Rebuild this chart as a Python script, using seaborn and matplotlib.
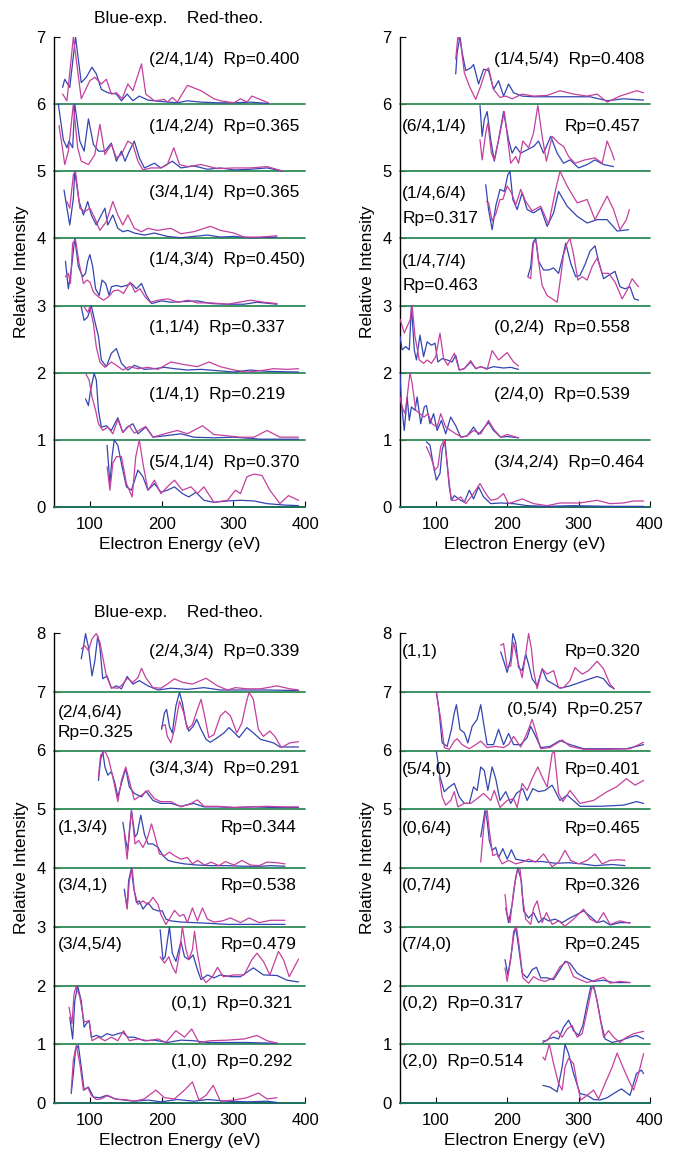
import matplotlib
matplotlib.use("Agg")
import matplotlib.pyplot as plt
import seaborn as sns
import pandas as pd

# ---------------- DATA (energy in eV, intensity relative to band baseline) ----------------
# Top-left panel
TL1_E_EXP = [62,65,72,80,88,95,103,109,116,125,137,144,152,160,169,181,199,222,236,255,278,301,324,349]
TL1_EXP = [.25,.37,.25,1.0,.32,.40,.55,.45,.22,.17,.15,.05,.15,.05,.12,.06,.04,.02,.05,.03,.02,.02,.03,.01]
TL1_E_TH = [62,68,77,88,100,107,116,123,130,137,145,153,160,172,178,190,204,208,215,222,236,255,273,282,301,310,319,326,342,349]
TL1_TH = [.15,.05,1.0,.08,.35,.40,.30,.37,.15,.17,.08,.30,.20,.60,.15,.05,.07,.03,.10,.03,.28,.20,.08,.05,.02,.08,.03,.12,.05,.02]

TL2_E_EXP = [56,63,68,71,76,79,86,92,98,105,112,121,130,137,144,149,155,162,169,176,190,199,215,227,245,264,282,301,324,347,370]
TL2_EXP = [1.0,.47,.35,.45,.35,1.0,.45,.30,.78,.40,.30,.30,.42,.15,.30,.15,.30,.45,.20,.05,.12,.05,.15,.05,.08,.03,.05,.02,.03,.05,.0]
TL2_E_TH = [57,61,65,70,77,83,88,98,107,114,121,130,137,144,153,160,167,174,185,199,208,217,225,236,255,278,301,324,347,370]
TL2_TH = [.68,.40,.10,.30,1.0,.35,.15,.10,.25,.70,.25,.40,.20,.25,.45,.40,.15,.02,.05,.05,.10,.35,.10,.07,.10,.04,.05,.05,.07,.0]

TL3_E_EXP = [64,68,72,77,79,85,91,97,102,109,116,121,125,132,139,146,153,162,176,190,208,227,245,264,282,301,324,361]
TL3_EXP = [.72,.45,.20,.60,1.0,.55,.35,.55,.35,.20,.35,.45,.20,.35,.15,.10,.12,.08,.05,.08,.03,.01,.03,.05,.02,.03,.01,.02]
TL3_E_TH = [68,72,77,80,86,93,100,107,114,123,132,139,146,153,162,172,181,194,213,227,245,268,282,301,315,338,361]
TL3_TH = [.55,.45,.95,1.0,.45,.40,.45,.30,.12,.25,.55,.35,.20,.35,.15,.10,.15,.12,.15,.07,.10,.18,.12,.08,.02,.02,.04]

TL4_E_EXP = [66,70,74,79,84,90,94,97,100,104,108,113,117,122,127,130,137,144,151,158,165,172,179,186,200,213,232,250,269,292,315,333,361]
TL4_EXP = [.66,.25,.53,1.0,.58,.43,.48,.66,.76,.58,.25,.15,.38,.33,.15,.28,.30,.28,.30,.33,.25,.33,.15,.03,.07,.05,.06,.07,.03,.02,.02,.05,.02]
TL4_E_TH = [66,70,73,76,80,85,91,96,100,105,112,119,126,133,140,147,156,163,170,177,184,195,209,223,237,250,269,292,324,343,361]
TL4_TH = [.43,.48,.33,.93,.98,.63,.33,.38,.35,.20,.13,.08,.13,.22,.23,.18,.35,.20,.25,.13,.05,.08,.10,.05,.08,.04,.04,.02,.08,.05,.03]

TL5_E_EXP = [88,92,97,102,107,112,116,123,130,137,144,153,162,176,190,204,218,236,255,278,301,324,347,391]
TL5_EXP = [.98,.78,.83,1.0,.76,.54,.19,.09,.29,.36,.14,.04,.11,.05,.06,.08,.06,.04,.05,.03,.01,.04,.02,.01]
TL5_E_TH = [92,97,100,105,109,114,121,130,137,146,155,167,181,195,213,232,250,266,282,301,319,338,356,375,391]
TL5_TH = [.98,.90,.98,.73,.38,.16,.08,.16,.11,.04,.09,.06,.08,.05,.16,.12,.09,.16,.09,.04,.01,.03,.06,.05,.06]

TL6_E_EXP = [94,98,101,106,109,112,116,123,130,139,146,152,160,167,178,188,204,227,245,273,301,338,391]
TL6_EXP = [.61,.51,.74,.99,.89,.44,.19,.21,.14,.33,.11,.19,.24,.09,.19,.04,.06,.09,.04,.03,.04,.01,.01]
TL6_E_TH = [94,99,103,108,112,118,125,132,139,146,155,162,178,188,204,222,236,257,273,292,310,329,347,365,391]
TL6_TH = [.99,.89,.64,.44,.24,.14,.19,.09,.30,.11,.21,.10,.20,.04,.09,.14,.09,.21,.08,.06,.04,.04,.14,.04,.04]

TL7_E_EXP = [124,128,131,134,139,144,151,158,167,174,181,190,199,208,218,229,238,248,259,273,292,310,329,347,370,391]
TL7_EXP = [.92,.35,.75,1.0,.92,.65,.30,.25,.55,.45,.25,.35,.22,.25,.30,.20,.15,.22,.10,.07,.09,.10,.09,.05,.03,.02]
TL7_E_TH = [124,128,132,137,144,151,159,164,169,174,181,190,199,208,218,229,241,250,259,273,292,303,310,319,329,340,351,365,377,391]
TL7_TH = [.60,.25,.65,.75,.75,.35,.15,.75,1.0,.65,.25,.40,.20,.30,.40,.25,.30,.20,.30,.07,.10,.25,.20,.45,.49,.47,.25,.05,.17,.10]

# Top-right panel
TR1_E_EXP = [128,130,134,137,142,149,153,160,167,174,181,188,195,202,209,221,237,256,274,293,316,340,363,391]
TR1_EXP = [.45,.77,1.0,.77,.50,.54,.59,.30,.52,.50,.22,.35,.12,.30,.17,.12,.11,.11,.11,.11,.11,.05,.08,.06]
TR1_E_TH = [128,131,135,140,147,156,163,170,174,181,190,198,207,221,237,256,274,293,312,326,340,358,381,391]
TR1_TH = [.67,1.0,.91,.47,.27,.07,.27,.50,.54,.22,.10,.12,.08,.15,.12,.13,.20,.15,.12,.15,.03,.12,.20,.17]

TR2_E_EXP = [162,165,168,172,177,182,188,195,202,207,212,219,228,237,244,251,261,270,279,288,300,312,323,335,349]
TR2_EXP = [.98,.52,.77,.89,.47,.15,.47,.89,.47,.27,.37,.27,.32,.37,.45,.27,.52,.27,.12,.17,.05,.10,.17,.10,.07]
TR2_E_TH = [162,165,170,173,178,182,190,196,202,205,212,216,222,230,237,243,249,255,263,272,279,286,295,309,323,333,340,347,350]
TR2_TH = [.47,.17,.57,.72,.27,.17,.57,.89,.37,.12,.22,.12,.45,.35,.57,.98,.52,.15,.52,.42,.37,.22,.12,.17,.20,.12,.45,.27,.17]

TR3_E_EXP = [170,174,179,184,190,196,201,204,208,214,221,228,237,247,256,265,272,284,298,312,326,340,354,370]
TR3_EXP = [.80,.43,.13,.48,.73,.70,.95,1.0,.58,.43,.68,.43,.38,.45,.18,.38,.70,.48,.33,.23,.28,.28,.11,.13]
TR3_E_TH = [171,174,179,184,190,194,200,206,212,219,226,235,247,258,268,274,284,298,312,323,340,349,358,367,371]
TR3_TH = [.55,.53,.26,.36,.58,.58,.78,.68,.50,.73,.55,.41,.48,.21,.73,1.0,.78,.53,.58,.28,.63,.43,.13,.28,.43]

TR4_E_EXP = [229,233,236,240,244,251,258,265,272,278,282,289,296,302,309,316,323,328,335,342,351,358,365,372,378,384]
TR4_EXP = [.43,.58,.93,1.0,.66,.53,.53,.56,.48,.73,.93,.63,.43,.45,.61,.81,.89,.66,.40,.45,.51,.28,.25,.28,.10,.08]
TR4_E_TH = [229,233,237,241,245,249,256,263,270,275,279,284,288,293,299,305,312,319,326,333,342,351,361,368,375,380,384]
TR4_TH = [.43,.40,.96,.93,.58,.30,.15,.10,.05,.43,.76,.93,1.0,.76,.38,.43,.38,.58,.71,.48,.48,.35,.10,.23,.40,.33,.28]

TR5_E_EXP = [50,53,58,63,66,70,73,78,83,88,94,99,103,109,116,123,128,133,140,149,156,163,172,181,195,205,216]
TR5_EXP = [.54,.34,.39,.34,1.0,.34,.19,.56,.24,.46,.41,.44,.16,.21,.19,.16,.26,.04,.06,.16,.06,.09,.06,.09,.07,.08,.05]
TR5_E_TH = [50,56,60,64,67,71,77,83,88,94,100,106,111,117,126,133,140,149,156,163,172,179,188,200,209,216]
TR5_TH = [.80,.59,.69,.78,1.0,.54,.19,.14,.19,.14,.24,.59,.21,.11,.29,.04,.06,.18,.06,.09,.05,.33,.19,.30,.16,.10]

TR6_E_EXP = [50,52,56,60,63,66,71,74,79,84,87,92,97,102,108,114,121,128,135,144,153,160,174,181,191,200,216]
TR6_EXP = [.99,.54,.14,.64,.29,.49,.44,.64,.24,.49,.51,.24,.39,.14,.29,.09,.34,.21,.04,.06,.19,.08,.26,.14,.04,.05,.03]
TR6_E_TH = [50,53,57,60,64,67,72,78,84,89,95,102,107,114,121,128,137,144,153,163,174,181,191,200,216]
TR6_TH = [.64,.49,.39,.64,1.0,.84,.44,.39,.34,.39,.24,.19,.39,.19,.14,.09,.04,.06,.14,.09,.29,.16,.04,.08,.03]

TR7_E_EXP = [87,92,97,101,106,109,113,115,119,122,126,135,140,147,153,160,167,177,191,209,228,256,293,340,391]
TR7_EXP = [.97,.92,.60,.40,.50,.85,1.0,.75,.30,.10,.17,.10,.07,.25,.12,.30,.15,.05,.06,.05,.02,.01,.02,.01,.01]
TR7_E_TH = [87,93,99,103,107,112,115,119,122,128,135,142,151,162,170,177,186,195,202,221,237,256,274,302,326,344,363,377,391]
TR7_TH = [.90,.75,.55,.60,.90,1.0,.75,.35,.10,.10,.15,.05,.17,.35,.20,.10,.12,.20,.05,.12,.05,.02,.06,.06,.10,.05,.06,.09,.09]

# Bottom-left panel
BL1_E_EXP = [88,91,94,98,103,107,111,114,118,124,130,137,144,152,160,169,181,195,213,236,259,282,310,347,391]
BL1_EXP = [.56,.76,.99,.76,.27,.53,.95,.76,.22,.27,.06,.10,.05,.26,.13,.19,.10,.03,.06,.04,.07,.03,.03,.03,.02]
BL1_E_TH = [88,93,98,103,109,114,118,123,130,139,146,152,160,167,172,178,188,199,208,218,229,243,262,278,292,303,319,338,361,379,391]
BL1_TH = [.73,.78,.70,.90,.99,.84,.59,.27,.07,.06,.13,.23,.16,.24,.40,.24,.07,.06,.13,.22,.16,.13,.23,.10,.03,.07,.05,.05,.10,.05,.03]

BL2_E_EXP = [200,204,207,211,215,220,225,229,234,238,244,249,255,262,268,278,287,294,301,308,319,328,338,347,356,365,379,391]
BL2_EXP = [.36,.64,.70,.41,.30,.76,.99,.81,.47,.33,.41,.53,.36,.19,.14,.22,.30,.39,.31,.22,.39,.30,.19,.16,.13,.06,.06,.06]
BL2_E_TH = [200,205,208,213,218,225,231,236,243,250,255,260,266,273,282,289,296,305,312,318,322,328,335,342,351,358,367,379,391]
BL2_TH = [.41,.44,.24,.13,.36,.84,.64,.36,.44,.70,.87,.59,.22,.27,.59,.67,.59,.30,.47,.81,.99,.87,.36,.24,.33,.24,.05,.13,.15]

BL3_E_EXP = [112,115,118,121,125,130,135,139,144,150,155,162,172,178,188,199,213,227,245,259,278,301,328,356,391]
BL3_EXP = [.49,.84,.98,.72,.58,.64,.44,.21,.44,.69,.38,.27,.21,.31,.15,.10,.10,.05,.10,.04,.04,.03,.04,.03,.03]
BL3_E_TH = [112,115,121,126,132,139,144,150,156,162,172,181,190,199,213,227,241,250,259,278,301,324,347,370,391]
BL3_TH = [.55,.92,.99,.86,.55,.13,.49,.72,.44,.16,.24,.32,.18,.13,.13,.04,.10,.16,.05,.05,.03,.04,.05,.04,.04]

BL4_E_EXP = [146,150,153,158,163,166,171,176,181,188,195,202,209,218,232,250,269,292,315,338,352,372]
BL4_EXP = [.78,.47,.30,.98,.53,.58,.90,.58,.41,.41,.35,.21,.13,.10,.07,.05,.04,.04,.03,.03,.04,.03]
BL4_E_TH = [148,152,155,158,163,168,174,180,186,191,197,204,211,218,227,236,243,250,260,269,280,289,301,312,324,336,347,361,372]
BL4_TH = [.58,.15,.64,.98,.41,.47,.35,.50,.75,.53,.24,.21,.27,.21,.15,.18,.07,.13,.05,.10,.04,.11,.05,.13,.05,.04,.10,.09,.07]

BL5_E_EXP = [148,152,154,158,161,165,169,174,181,188,195,201,206,213,227,245,264,292,319,347,372]
BL5_EXP = [.64,.32,.78,1.0,.67,.41,.44,.30,.41,.30,.27,.27,.13,.10,.08,.07,.06,.04,.04,.04,.04]
BL5_E_TH = [149,152,155,159,162,167,174,181,188,195,199,206,211,218,225,231,236,243,250,257,264,273,285,296,310,322,336,352,372]
BL5_TH = [.55,.30,.78,1.0,.61,.38,.44,.38,.50,.38,.21,.04,.13,.28,.18,.21,.07,.32,.10,.32,.13,.08,.10,.15,.07,.15,.07,.11,.11]

BL6_E_EXP = [198,202,205,208,211,215,220,227,232,238,244,250,255,264,273,282,296,310,328,342,361,375,391]
BL6_EXP = [.95,.44,.49,.75,1.0,.55,.41,.75,.49,.44,.52,.27,.10,.18,.13,.18,.15,.15,.30,.18,.17,.09,.06]
BL6_E_TH = [198,204,210,215,220,225,229,234,238,243,246,250,256,262,271,278,286,301,315,326,333,342,351,363,370,378,391]
BL6_TH = [.49,.38,.49,.32,.21,.55,1.0,.61,.44,.61,.92,.55,.15,.05,.15,.31,.15,.18,.18,.44,.55,.41,.18,.58,.44,.15,.45]

BL7_E_EXP = [72,76,79,83,88,92,95,99,102,109,116,124,132,139,146,153,162,176,190,208,227,245,264,292,319,347,361]
BL7_EXP = [.46,.09,.74,.99,.74,.29,.35,.40,.12,.15,.12,.18,.15,.18,.20,.12,.12,.06,.07,.03,.07,.06,.03,.03,.03,.02,.02]
BL7_E_TH = [71,75,78,81,86,92,99,103,112,121,130,139,147,155,167,181,195,206,220,232,242,252,268,292,315,333,347,361]
BL7_TH = [.63,.35,.86,.99,.80,.38,.40,.06,.12,.06,.12,.06,.23,.06,.09,.06,.09,.03,.23,.12,.26,.03,.06,.07,.09,.15,.06,.02]

BL8_E_EXP = [74,77,80,84,88,92,98,105,114,123,135,148,162,181,199,222,245,264,292,319,347,361]
BL8_EXP = [.16,.50,.90,.98,.61,.22,.27,.10,.09,.13,.07,.05,.03,.05,.02,.06,.03,.06,.03,.02,.03,.01]
BL8_E_TH = [74,77,81,86,91,97,102,109,116,125,137,148,162,176,192,204,218,232,243,252,262,272,282,301,319,335,347,361]
BL8_TH = [.22,.73,.98,.67,.22,.27,.13,.06,.07,.13,.06,.06,.03,.07,.22,.09,.07,.22,.36,.05,.13,.30,.03,.05,.09,.17,.07,.09]

# Bottom-right panel
BR1_E_EXP = [191,195,200,205,208,212,216,221,226,230,235,242,249,256,265,274,288,302,316,326,335,343,350]
BR1_EXP = [.68,.53,.33,.56,.99,.84,.41,.36,.64,.47,.22,.10,.39,.19,.13,.06,.10,.16,.22,.26,.22,.10,.05]
BR1_E_TH = [191,195,200,205,209,214,221,226,230,234,237,242,249,256,265,272,279,288,295,305,314,326,335,344,350]
BR1_TH = [.79,.82,.41,.44,.84,.56,.24,.64,.99,.73,.36,.05,.39,.30,.36,.07,.07,.19,.41,.30,.36,.52,.39,.13,.05]

BR2_E_EXP = [101,105,109,116,122,126,129,134,140,145,151,158,163,167,172,181,188,195,202,209,219,228,233,240,247,260,274,288,307,340,367,381,391]
BR2_EXP = [1.0,.64,.13,.07,.36,.64,.78,.36,.30,.13,.41,.53,.78,.47,.10,.10,.36,.10,.29,.10,.10,.22,.41,.24,.05,.07,.17,.10,.03,.03,.03,.07,.10]
BR2_E_TH = [101,107,112,119,126,130,137,147,156,163,172,184,195,202,209,219,228,235,242,247,260,277,288,307,340,372,391]
BR2_TH = [.98,.53,.05,.02,.16,.20,.10,.03,.10,.16,.05,.07,.05,.10,.24,.06,.30,.53,.24,.03,.05,.18,.07,.02,.02,.03,.14]

BR3_E_EXP = [101,106,112,119,126,133,140,147,153,158,163,168,173,179,184,190,198,205,213,222,228,236,244,253,263,274,284,302,330,363,381,391]
BR3_EXP = [.98,.55,.30,.38,.44,.21,.10,.10,.38,.32,.72,.66,.32,.72,.52,.15,.30,.10,.27,.35,.15,.35,.30,.32,.41,.15,.24,.05,.05,.07,.13,.10]
BR3_E_TH = [105,109,114,121,126,131,140,149,158,167,177,182,190,200,209,214,221,228,236,243,249,256,263,266,272,278,288,302,321,340,353,367,379,391]
BR3_TH = [.55,.21,.07,.15,.30,.04,.10,.10,.18,.27,.15,.32,.03,.15,.18,.03,.44,.32,.55,.72,.55,.38,.95,.98,.27,.13,.32,.10,.15,.30,.38,.52,.41,.49]

BR4_E_EXP = [163,166,169,172,175,179,184,188,194,200,206,212,221,230,249,268,286,305,323,347,365]
BR4_EXP = [.53,.75,.98,.81,.47,.30,.35,.18,.33,.15,.31,.15,.13,.11,.11,.08,.09,.07,.04,.06,.04]
BR4_E_TH = [163,166,169,172,175,180,186,193,202,212,221,230,240,251,263,272,281,289,300,312,323,333,344,356,365]
BR4_TH = [.10,.53,.90,.98,.64,.21,.24,.07,.13,.07,.10,.15,.10,.24,.02,.10,.30,.13,.07,.13,.24,.07,.13,.14,.13]

BR5_E_EXP = [198,202,207,212,215,220,223,230,237,244,251,258,267,277,288,298,307,316,326,335,344,358,372]
BR5_EXP = [.32,.07,.38,.84,1.0,.78,.27,.15,.24,.07,.15,.10,.13,.07,.15,.21,.27,.18,.07,.10,.03,.07,.07]
BR5_E_TH = [197,200,204,209,214,218,221,226,233,237,242,249,255,263,272,281,293,307,316,326,335,344,358,372]
BR5_TH = [.55,.21,.07,.61,.95,1.0,.55,.13,.04,.32,.44,.07,.24,.04,.10,.01,.13,.30,.13,.07,.24,.04,.10,.06]

BR6_E_EXP = [197,201,206,209,212,216,221,228,235,241,247,256,265,274,281,288,298,309,321,335,349,372]
BR6_EXP = [.44,.18,.55,.84,1.0,.66,.21,.13,.27,.31,.13,.13,.10,.27,.41,.38,.21,.13,.07,.09,.05,.05]
BR6_E_TH = [197,200,205,209,213,217,222,230,237,244,253,265,274,284,293,302,312,323,335,344,358,372]
BR6_TH = [.30,.07,.44,.92,1.0,.66,.13,.04,.15,.10,.07,.13,.32,.41,.15,.10,.05,.09,.14,.04,.07,.05]

BR7_E_EXP = [250,258,265,272,279,286,293,300,306,312,317,321,326,331,337,347,358,372,381,391]
BR7_EXP = [.03,.09,.12,.09,.29,.41,.23,.15,.32,.69,.97,.99,.74,.40,.09,.03,.06,.12,.15,.09]
BR7_E_TH = [250,256,263,270,277,284,291,298,305,312,319,323,329,335,342,349,358,367,377,391]
BR7_TH = [.06,.06,.18,.23,.12,.26,.32,.12,.18,.57,.99,.91,.52,.12,.23,.12,.03,.12,.18,.22]

BR8_E_EXP = [250,260,270,277,281,286,293,302,312,321,330,340,349,360,372,381,388,391]
BR8_EXP = [.30,.27,.19,.61,1.0,.84,.50,.16,.13,.06,.05,.09,.16,.24,.13,.50,.56,.50]
BR8_E_TH = [250,253,259,265,272,277,281,286,293,298,303,312,321,328,337,347,354,360,370,377,384,391]
BR8_TH = [.78,.73,1.0,.67,.33,.22,.61,.76,.67,.33,.05,.13,.22,.07,.33,.61,.85,.67,.39,.22,.50,.84]

# Band labels
TL_LABELS = ["(2/4,1/4)  Rp=0.400", "(1/4,2/4)  Rp=0.365", "(3/4,1/4)  Rp=0.365",
             "(1/4,3/4)  Rp=0.450)", "(1,1/4)  Rp=0.337", "(1/4,1)  Rp=0.219", "(5/4,1/4)  Rp=0.370"]
TR_LABELS = ["(1/4,5/4)  Rp=0.408", "(6/4,1/4)", "Rp=0.457", "(1/4,6/4)", "Rp=0.317",
             "(1/4,7/4)", "Rp=0.463", "(0,2/4)  Rp=0.558", "(2/4,0)  Rp=0.539", "(3/4,2/4)  Rp=0.464"]
BL_LABELS = ["(2/4,3/4)  Rp=0.339", "(2/4,6/4)", "Rp=0.325", "(3/4,3/4)  Rp=0.291", "(1,3/4)",
             "Rp=0.344", "(3/4,1)", "Rp=0.538", "(3/4,5/4)", "Rp=0.479", "(0,1)  Rp=0.321", "(1,0)  Rp=0.292"]
BR_LABELS = ["(1,1)", "Rp=0.320", "(0,5/4)  Rp=0.257", "(5/4,0)", "Rp=0.401", "(0,6/4)", "Rp=0.465",
             "(0,7/4)", "Rp=0.326", "(7/4,0)", "Rp=0.245", "(0,2)  Rp=0.317", "(2,0)  Rp=0.514"]

TITLE = "Blue-exp.    Red-theo."
XLABEL = "Electron Energy (eV)"
YLABEL = "Relative Intensity"
X_TICKS = [100, 200, 300, 400]

# ---------------- LAYOUT ----------------
TL_CURVES = [(6, TL1_E_EXP, TL1_EXP, TL1_E_TH, TL1_TH), (5, TL2_E_EXP, TL2_EXP, TL2_E_TH, TL2_TH),
             (4, TL3_E_EXP, TL3_EXP, TL3_E_TH, TL3_TH), (3, TL4_E_EXP, TL4_EXP, TL4_E_TH, TL4_TH),
             (2, TL5_E_EXP, TL5_EXP, TL5_E_TH, TL5_TH), (1, TL6_E_EXP, TL6_EXP, TL6_E_TH, TL6_TH),
             (0, TL7_E_EXP, TL7_EXP, TL7_E_TH, TL7_TH)]
TR_CURVES = [(6, TR1_E_EXP, TR1_EXP, TR1_E_TH, TR1_TH), (5, TR2_E_EXP, TR2_EXP, TR2_E_TH, TR2_TH),
             (4, TR3_E_EXP, TR3_EXP, TR3_E_TH, TR3_TH), (3, TR4_E_EXP, TR4_EXP, TR4_E_TH, TR4_TH),
             (2, TR5_E_EXP, TR5_EXP, TR5_E_TH, TR5_TH), (1, TR6_E_EXP, TR6_EXP, TR6_E_TH, TR6_TH),
             (0, TR7_E_EXP, TR7_EXP, TR7_E_TH, TR7_TH)]
BL_CURVES = [(7, BL1_E_EXP, BL1_EXP, BL1_E_TH, BL1_TH), (6, BL2_E_EXP, BL2_EXP, BL2_E_TH, BL2_TH),
             (5, BL3_E_EXP, BL3_EXP, BL3_E_TH, BL3_TH), (4, BL4_E_EXP, BL4_EXP, BL4_E_TH, BL4_TH),
             (3, BL5_E_EXP, BL5_EXP, BL5_E_TH, BL5_TH), (2, BL6_E_EXP, BL6_EXP, BL6_E_TH, BL6_TH),
             (1, BL7_E_EXP, BL7_EXP, BL7_E_TH, BL7_TH), (0, BL8_E_EXP, BL8_EXP, BL8_E_TH, BL8_TH)]
BR_CURVES = [(7, BR1_E_EXP, BR1_EXP, BR1_E_TH, BR1_TH), (6, BR2_E_EXP, BR2_EXP, BR2_E_TH, BR2_TH),
             (5, BR3_E_EXP, BR3_EXP, BR3_E_TH, BR3_TH), (4, BR4_E_EXP, BR4_EXP, BR4_E_TH, BR4_TH),
             (3, BR5_E_EXP, BR5_EXP, BR5_E_TH, BR5_TH), (2, BR6_E_EXP, BR6_EXP, BR6_E_TH, BR6_TH),
             (1, BR7_E_EXP, BR7_EXP, BR7_E_TH, BR7_TH), (0, BR8_E_EXP, BR8_EXP, BR8_E_TH, BR8_TH)]

TL_POS = [(183, 6.66), (183, 5.67), (183, 4.68), (183, 3.68), (183, 2.68), (183, 1.68), (183, 0.67)]
TR_POS = [(181, 6.66), (53, 5.67), (280, 5.67), (53, 4.67), (53, 4.30), (53, 3.65), (53, 3.30),
          (181, 2.68), (181, 1.68), (181, 0.67)]
BL_POS = [(183, 7.68), (55, 6.64), (55, 6.30), (183, 5.69), (55, 4.69), (282, 4.69), (55, 3.71),
          (282, 3.71), (55, 2.69), (282, 2.69), (213, 1.70), (213, 0.70)]
BR_POS = [(53, 7.68), (280, 7.68), (200, 6.69), (53, 5.67), (280, 5.67), (53, 4.68), (280, 4.68),
          (53, 3.71), (280, 3.71), (53, 2.69), (280, 2.69), (53, 1.70), (53, 0.70)]

BLUE = "#3345b0"
MAGENTA = "#c4409e"
GREEN = "#2e8b57"
FS = 12.5

sns.set_style("ticks")
plt.rcParams['font.family'] = ['Liberation Sans', 'DejaVu Sans']
plt.rcParams.update({"text.color": "black", "axes.labelcolor": "black", "xtick.color": "black",
                     "ytick.color": "black", "axes.edgecolor": "black"})

W, H = 679, 1154
fig = plt.figure(figsize=(W / 100, H / 100), dpi=100)


def make_axes(left_px, top_px, right_px, bottom_px):
    return fig.add_axes([left_px / W, 1 - bottom_px / H, (right_px - left_px) / W, (bottom_px - top_px) / H])


def draw_panel(ax, curves, labels, positions, ymax):
    for k in range(0, ymax):
        ax.axhline(k, color=GREEN, lw=1.3, zorder=1, clip_on=False)
    for base, e_exp, v_exp, e_th, v_th in curves:
        d_exp = pd.DataFrame({"E": e_exp, "I": [base + v for v in v_exp]})
        d_th = pd.DataFrame({"E": e_th, "I": [base + v for v in v_th]})
        sns.lineplot(data=d_exp, x="E", y="I", ax=ax, color=BLUE, lw=0.9, sort=False,
                     estimator=None, legend=False, zorder=3)
        sns.lineplot(data=d_th, x="E", y="I", ax=ax, color=MAGENTA, lw=0.9, sort=False,
                     estimator=None, legend=False, zorder=4)
    for txt, (x, y) in zip(labels, positions):
        ax.text(x, y, txt, fontsize=FS, ha="left", va="center", zorder=5, clip_on=False, color="black")
    ax.set_xlim(50, 400)
    ax.set_ylim(0, ymax)
    ax.set_xticks(X_TICKS)
    ax.set_yticks(range(0, ymax + 1))
    ax.spines["top"].set_visible(False)
    ax.spines["right"].set_visible(False)
    ax.spines["bottom"].set_color("#1f6f5f")
    ax.spines["bottom"].set_linewidth(1.4)
    ax.spines["left"].set_linewidth(1.0)
    ax.spines["left"].set_color("black")
    ax.tick_params(axis="both", direction="in", length=4, width=0.8, labelsize=12, colors="black")
    ax.tick_params(axis="y", pad=6)
    ax.tick_params(axis="x", pad=7)
    ax.set_xlabel(XLABEL, fontsize=FS, labelpad=4, color="black")
    ax.set_ylabel(YLABEL, fontsize=FS, labelpad=5, color="black")


ax_tl = make_axes(54, 37, 305, 507)
ax_tr = make_axes(400, 37, 650, 507)
ax_bl = make_axes(54, 633, 305, 1103)
ax_br = make_axes(400, 633, 650, 1103)

draw_panel(ax_tl, TL_CURVES, TL_LABELS, TL_POS, 7)
draw_panel(ax_tr, TR_CURVES, TR_LABELS, TR_POS, 7)
draw_panel(ax_bl, BL_CURVES, BL_LABELS, BL_POS, 8)
draw_panel(ax_br, BR_CURVES, BR_LABELS, BR_POS, 8)

fig.text(179 / W, 1 - 18 / H, TITLE, ha="center", va="center", fontsize=FS, color="black")
fig.text(179 / W, 1 - 613 / H, TITLE, ha="center", va="center", fontsize=FS, color="black")

fig.savefig("out.png", dpi=100)
